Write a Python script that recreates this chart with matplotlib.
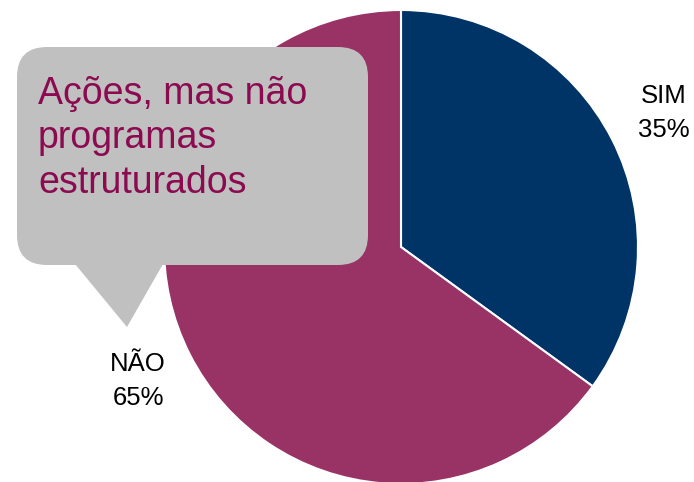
import matplotlib.pyplot as plt
from matplotlib.patches import FancyBboxPatch, Polygon

categorias = ['SIM', 'NÃO']
percentuais = [35, 65]
cores = ['#003366', '#993366']
balao_texto = 'Ações, mas não\nprogramas\nestruturados'

plt.rcParams['font.family'] = ['Liberation Sans', 'DejaVu Sans']

fig = plt.figure(figsize=(6.94, 4.82), dpi=100)
ax = fig.add_axes([0, 0, 1, 1])

rotulos = [f'{c}\n{p}%' for c, p in zip(categorias, percentuais)]
ax.pie(percentuais, labels=rotulos, colors=cores, startangle=90,
       counterclock=False, center=(401, 235), radius=237,
       labeldistance=1.245, frame=True,
       wedgeprops=dict(edgecolor='white', linewidth=1.5),
       textprops=dict(fontsize=18.5, ha='center', linespacing=1.55, color='black'))
ax.set_xlim(0, 694)
ax.set_ylim(0, 482)
ax.axis('off')

# balão de fala
caixa = FancyBboxPatch((17, 217), 351, 218, boxstyle='round,pad=0,rounding_size=30',
                       facecolor='#C0C0C0', edgecolor='none', zorder=5)
ax.add_patch(caixa)
ponta = Polygon([(75, 218), (163, 218), (127, 155)], closed=True,
                facecolor='#C0C0C0', edgecolor='none', zorder=5)
ax.add_patch(ponta)
ax.text(38, 406, balao_texto, fontsize=27, color='#8B0A50', va='top', ha='left',
        linespacing=1.3, zorder=6)

fig.savefig('out.png', dpi=100)
